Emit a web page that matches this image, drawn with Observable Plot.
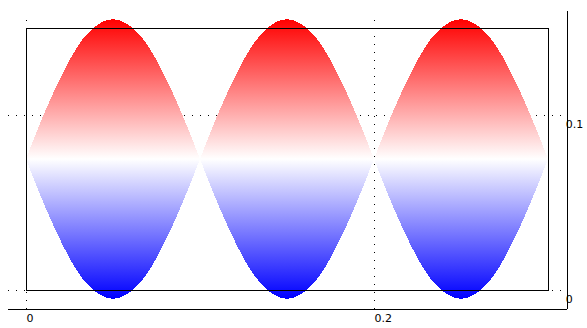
<!DOCTYPE html>
<html>
<head>
<meta charset="utf-8">
<script src="https://cdn.jsdelivr.net/npm/d3@7"></script>
<script src="https://cdn.jsdelivr.net/npm/@observablehq/plot@0.6"></script>
<style>
  html, body { margin: 0; padding: 0; background: #fff; }
  svg { display: block; }
</style>
</head>
<body>
<div id="chart"></div>
<script>
// x positions of the envelope samples (three lobes, 0 → 0.3)
const xs = [0.00, 0.01, 0.02, 0.03, 0.04, 0.05, 0.06, 0.07, 0.08, 0.09,
            0.10, 0.11, 0.12, 0.13, 0.14, 0.15, 0.16, 0.17, 0.18, 0.19,
            0.20, 0.21, 0.22, 0.23, 0.24, 0.25, 0.26, 0.27, 0.28, 0.29, 0.30];
// upper edge of the filled envelope
const upper = [0.075, 0.100, 0.122, 0.140, 0.151, 0.155, 0.151, 0.140, 0.122, 0.100,
               0.075, 0.100, 0.122, 0.140, 0.151, 0.155, 0.151, 0.140, 0.122, 0.100,
               0.075, 0.100, 0.122, 0.140, 0.151, 0.155, 0.151, 0.140, 0.122, 0.100, 0.075];
// lower edge of the filled envelope
const lower = [0.075, 0.050, 0.028, 0.010, -0.001, -0.005, -0.001, 0.010, 0.028, 0.050,
               0.075, 0.050, 0.028, 0.010, -0.001, -0.005, -0.001, 0.010, 0.028, 0.050,
               0.075, 0.050, 0.028, 0.010, -0.001, -0.005, -0.001, 0.010, 0.028, 0.050, 0.075];
const lobes = [0, 1, 2];
const xTicks = [0, 0.2];
const yTicks = [0, 0.1];
const xTickLabels = ["0", "0.2"];
const yTickLabels = ["0", "0.1"];
// outer axis frame extent (data units)
const axisX = [-0.0103, 0.311];
const axisY = [-0.011, 0.16];

const table = [];
for (const k of lobes) {
  for (let i = 0; i <= 10; i++) {
    const j = k * 10 + i;
    table.push({x: xs[j], y1: lower[j], y2: upper[j], lobe: k});
  }
}

const font = "DejaVu Sans, sans-serif";

const svg = Plot.plot({
  width: 587,
  height: 328,
  marginLeft: 26,
  marginRight: 39,
  marginTop: 28,
  marginBottom: 38,
  x: {domain: [0, 0.3], axis: null},
  y: {domain: [0, 0.15], axis: null},
  style: {background: "#fff", overflow: "visible", fontFamily: font, fontSize: "11px"},
  marks: [
    // dotted grid
    Plot.ruleY(yTicks, {y: d => d, x1: axisX[0], x2: axisX[1], stroke: "black", strokeDasharray: "1,7", shapeRendering: "crispEdges"}),
    Plot.ruleX(xTicks, {x: d => d, y1: axisY[0], y2: 0.1588, stroke: "black", strokeDasharray: "1,7", shapeRendering: "crispEdges"}),
    // filled envelope
    Plot.areaY(table, {x: "x", y1: "y1", y2: "y2", z: "lobe", fill: "url(#bwr)", curve: "natural", shapeRendering: "crispEdges"}),
    // inner rectangle
    Plot.frame({stroke: "black", shapeRendering: "crispEdges"}),
    // tick labels
    Plot.text(xTicks, {x: d => d, y: axisY[0], text: (d, i) => xTickLabels[i], textAnchor: "start", dy: 9, dx: 0, fill: "black", fontSize: 11}),
    Plot.text(yTicks, {x: axisX[1], y: d => d, text: (d, i) => yTickLabels[i], textAnchor: "start", dy: 9, dx: -2, fill: "black", fontSize: 11}),
    // outer axis lines (drawn over the labels)
    Plot.ruleY([axisY[0]], {x1: axisX[0], x2: axisX[1], stroke: "black", shapeRendering: "crispEdges"}),
    Plot.ruleX([axisX[1]], {y1: axisY[0], y2: axisY[1], stroke: "black", shapeRendering: "crispEdges"})
  ]
});

const ns = "http://www.w3.org/2000/svg";
const defs = document.createElementNS(ns, "defs");
const grad = document.createElementNS(ns, "linearGradient");
grad.setAttribute("id", "bwr");
grad.setAttribute("x1", "0"); grad.setAttribute("y1", "0");
grad.setAttribute("x2", "0"); grad.setAttribute("y2", "1");
[["0", "#ff0000"], ["0.5", "#ffffff"], ["1", "#0000ff"]].forEach(([o, c]) => {
  const s = document.createElementNS(ns, "stop");
  s.setAttribute("offset", o);
  s.setAttribute("stop-color", c);
  grad.appendChild(s);
});
defs.appendChild(grad);
svg.insertBefore(defs, svg.firstChild);

document.getElementById("chart").appendChild(svg);
</script>
</body>
</html>
